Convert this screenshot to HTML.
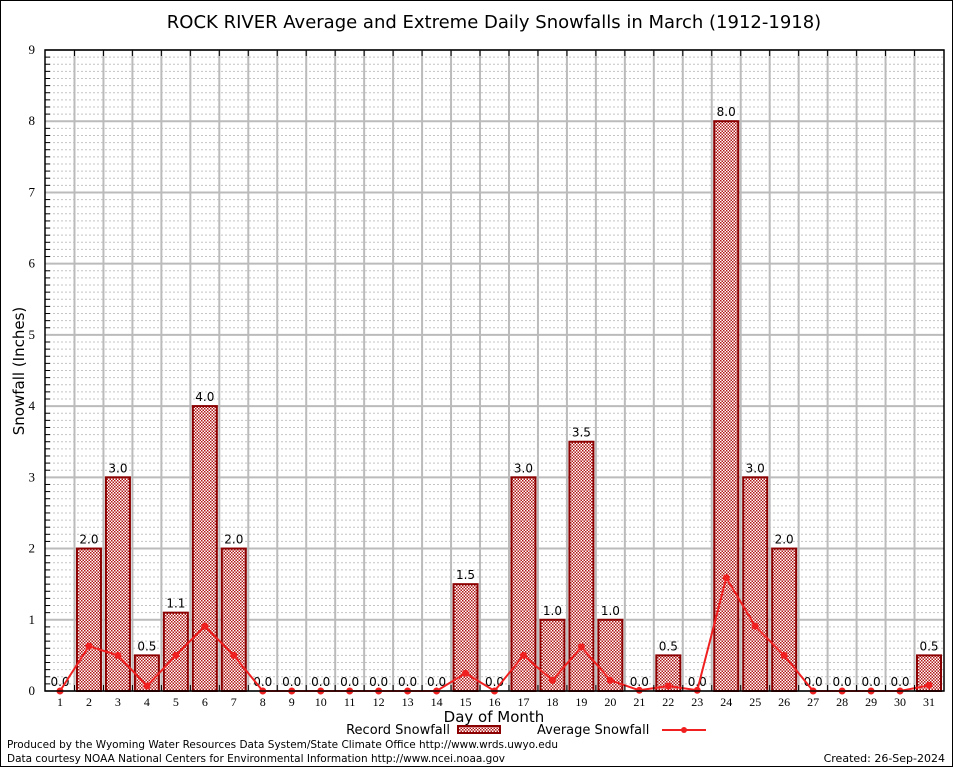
<!DOCTYPE html>
<html><head><meta charset="utf-8"><style>
body{margin:0;background:#fff;}
svg{display:block;font-family:"DejaVu Sans","Liberation Sans",sans-serif;}
</style></head><body>
<svg id="chart" width="954" height="768" xmlns="http://www.w3.org/2000/svg">
<defs>
<pattern id="chk" width="3" height="3" patternUnits="userSpaceOnUse">
<rect width="3" height="3" fill="#fff"/>
<rect width="1.5" height="1.5" fill="#b01818"/>
<rect x="1.5" y="1.5" width="1.5" height="1.5" fill="#b01818"/>
</pattern>
</defs>
<rect x="0.5" y="0.5" width="952" height="766" fill="#fff" stroke="#000"/>
<g id="grid"></g>
<g id="bars"></g>
<g id="line"></g>
<g id="axes"></g>
<text x="494" y="28" font-size="18" text-anchor="middle">ROCK RIVER Average and Extreme Daily Snowfalls in March (1912-1918)</text>
<text x="24" y="371" font-size="15" text-anchor="middle" transform="rotate(-90 24 371)">Snowfall (Inches)</text>
<text x="494" y="722" font-size="15" text-anchor="middle">Day of Month</text>
<g>
<text x="450" y="734" font-size="13" text-anchor="end">Record Snowfall</text>
<rect x="458" y="726" width="42" height="7" fill="url(#chk)" stroke="#8b0000" stroke-width="2"/>
</g>
<g>
<text x="537" y="734" font-size="13">Average Snowfall</text>
<line x1="662" y1="730" x2="706" y2="730" stroke="#f02020" stroke-width="2"/>
<circle cx="684" cy="730" r="3" fill="#f02020"/>
</g>
<text x="7" y="748" font-size="11" textLength="551" lengthAdjust="spacingAndGlyphs">Produced by the Wyoming Water Resources Data System/State Climate Office http://www.wrds.uwyo.edu</text>
<text x="7" y="762" font-size="11" textLength="498" lengthAdjust="spacingAndGlyphs">Data courtesy NOAA National Centers for Environmental Information http://www.ncei.noaa.gov</text>
<text x="945" y="762" font-size="11" text-anchor="end">Created: 26-Sep-2024</text>
</svg>
<script>
const days=[1,2,3,4,5,6,7,8,9,10,11,12,13,14,15,16,17,18,19,20,21,22,23,24,25,26,27,28,29,30,31];
const recordVals=[0,2,3,0.5,1.1,4,2,0,0,0,0,0,0,0,1.5,0,3,1,3.5,1,0,0.5,0,8,3,2,0,0,0,0,0.5];
const avgVals=[0,0.63,0.5,0.07,0.5,0.91,0.5,0,0,0,0,0,0,0,0.25,0,0.5,0.15,0.62,0.15,0.01,0.07,0.01,1.59,0.91,0.5,0,0,0,0,0.08];
const yTicks=[0,1,2,3,4,5,6,7,8,9];
const L=45,R=944,T=50,B=691,ymax=9;
const NS="http://www.w3.org/2000/svg";
const x=d=>60+(d-1)*(929-60)/30;
const y=v=>B-(v/ymax)*(B-T);
const step=(929-60)/30;
function mk(tag,attrs,parent){const e=document.createElementNS(NS,tag);for(const k in attrs)e.setAttribute(k,attrs[k]);document.getElementById(parent).appendChild(e);return e;}
for(let i=1;i<ymax*10;i++){if(i%10===0)continue;const yy=y(i/10);
 const g=mk('line',{x1:L,x2:R,y1:yy,y2:yy,stroke:'#c4c4c4','stroke-width':1,'stroke-dasharray':'2,2'},'grid');
 
 
 const t=mk('line',{x1:L,x2:L+5,y1:yy,y2:yy,stroke:'#000'},'axes');
 
 }
yTicks.forEach(v=>{const yy=y(v);
 const g=mk('line',{x1:L,x2:R,y1:yy,y2:yy,stroke:'#bbb','stroke-width':2},'grid');
 
 
 const t=mk('text',{x:L-10,y:yy+4,'font-size':13,'text-anchor':'end','font-family':'Liberation Serif,serif'},'axes');t.textContent=v;
 
 });
for(let d=1;d<31;d++){const xx=x(d)+step/2;
 const g=mk('line',{x1:xx,x2:xx,y1:T,y2:B,stroke:'#bbb','stroke-width':2},'grid');
 
 
 const t=mk('line',{x1:xx,x2:xx,y1:T,y2:T+6,stroke:'#000'},'axes');
 
 
 const b=mk('line',{x1:xx,x2:xx,y1:B,y2:B-6,stroke:'#000'},'axes');
 
 }
days.forEach((d,i)=>{const v=recordVals[i];
 if(v>0){const r=mk('rect',{x:x(d)-12,y:y(v),width:24,height:B-y(v),fill:'url(#chk)',stroke:'#8b0000','stroke-width':2},'bars');
 
 }
 const t=mk('text',{x:x(d),y:y(v)-5,'font-size':12,'text-anchor':'middle'},'bars');t.textContent=v.toFixed(1);
 
 
 const xl=mk('text',{x:x(d),y:B+15,'font-size':12,'text-anchor':'middle','font-family':'Liberation Serif,serif'},'axes');xl.textContent=d;
 
 });
const pl=mk('polyline',{points:days.map((d,i)=>x(d)+','+y(avgVals[i])).join(' '),fill:'none',stroke:'#f02020','stroke-width':2},'line');


days.forEach((d,i)=>{const c=mk('circle',{cx:x(d),cy:y(avgVals[i]),r:3.5,fill:'#f02020'},'line');
 
 });
const f=mk('rect',{x:L,y:T,width:R-L,height:B-T,fill:'none',stroke:'#000','stroke-width':1.5},'axes');


</script>
</body></html>
